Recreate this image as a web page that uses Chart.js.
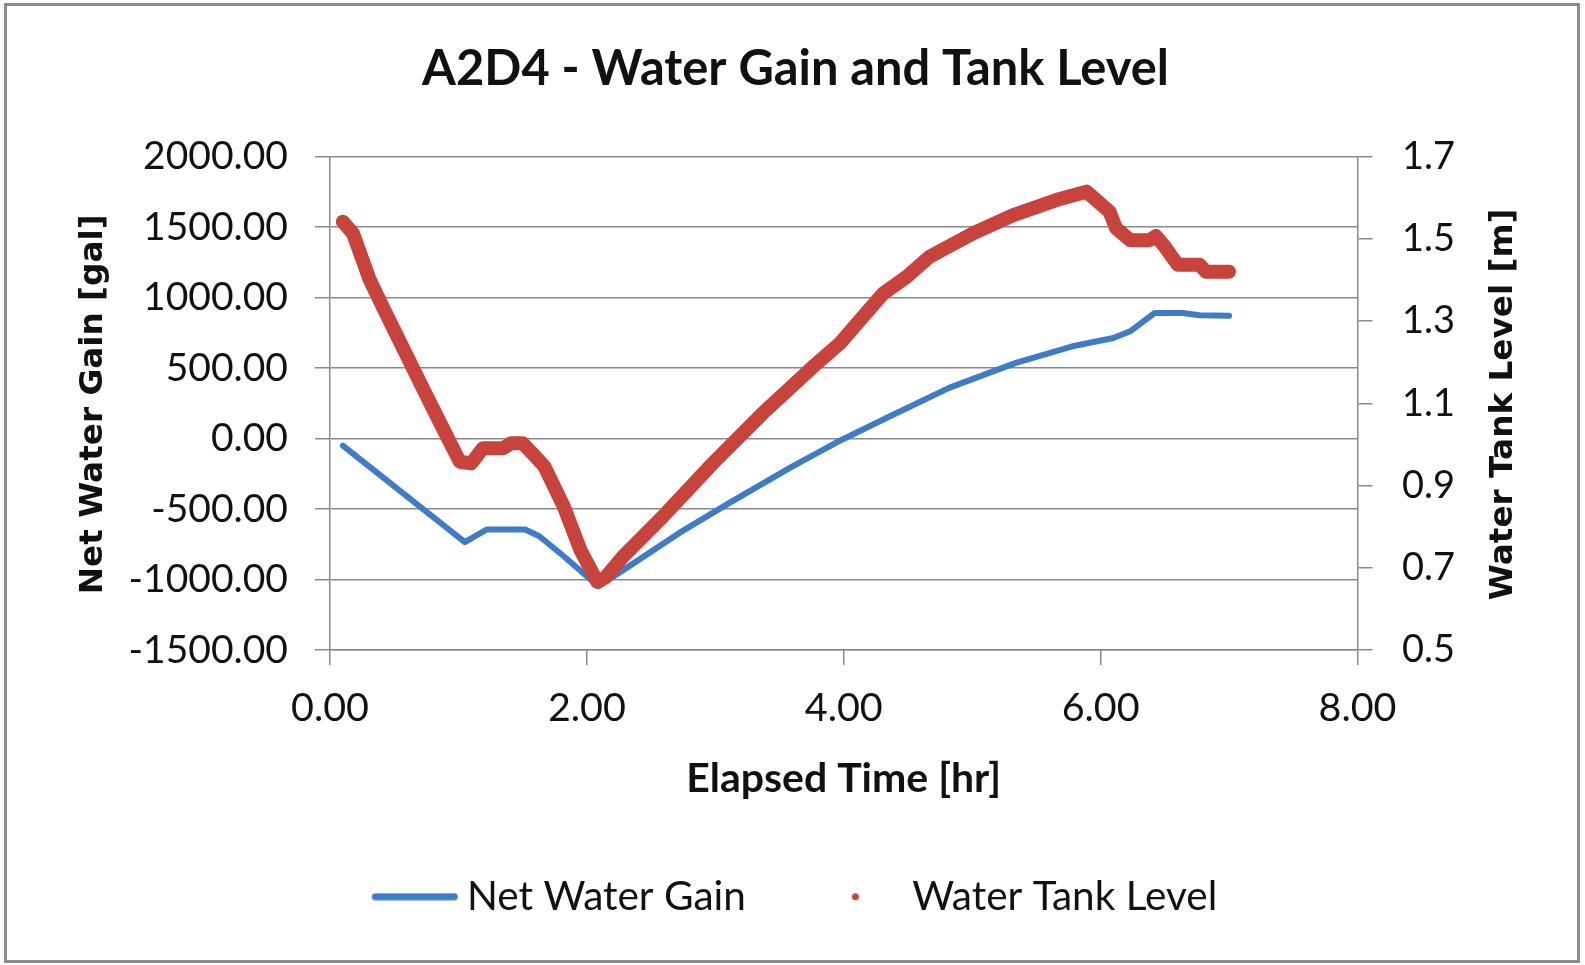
<!DOCTYPE html>
<html><head><meta charset="utf-8">
<script src="https://cdn.jsdelivr.net/npm/chart.js@4"></script>
<style>html,body{margin:0;padding:0;background:#fff;}canvas{display:block;}</style>
</head><body>
<canvas id="c" width="1585" height="965"></canvas>
<script>
// ---- data ----
const chartTitle = 'A2D4 - Water Gain and Tank Level';
const seriesNames = ['Net Water Gain', 'Water Tank Level'];
const xAxisTitle = 'Elapsed Time [hr]';
const yLeftTitle = 'Net Water Gain [gal]';
const yRightTitle = 'Water Tank Level [m]';
const xTicks = [0, 2, 4, 6, 8];
const yLeftTicks = [-1500, -1000, -500, 0, 500, 1000, 1500, 2000];
const yRightTicks = [0.5, 0.7, 0.9, 1.1, 1.3, 1.5, 1.7];
const gainTime = [0.10, 1.05, 1.22, 1.52, 1.63, 1.82, 2.09, 2.33, 2.72, 3.11, 3.58, 3.97, 4.36, 4.82, 5.34, 5.78, 6.10, 6.23, 6.42, 6.64, 6.77, 7.00];
const gainValues = [-50, -735, -645, -645, -693, -835, -1047, -905, -669, -456, -208, -15, 158, 360, 537, 655, 714, 761, 891, 891, 875, 872];
const levelTime = [0.10, 0.18, 0.31, 0.41, 0.73, 0.86, 1.01, 1.10, 1.19, 1.35, 1.41, 1.50, 1.60, 1.67, 1.82, 1.95, 2.08, 2.15, 2.28, 2.59, 2.98, 3.37, 3.76, 3.97, 4.15, 4.31, 4.49, 4.67, 5.01, 5.32, 5.66, 5.89, 6.07, 6.12, 6.23, 6.38, 6.43, 6.50, 6.60, 6.77, 6.82, 7.00];
const levelValues = [1.542, 1.513, 1.400, 1.335, 1.132, 1.051, 0.958, 0.954, 0.991, 0.991, 1.003, 1.003, 0.970, 0.946, 0.849, 0.743, 0.666, 0.678, 0.727, 0.824, 0.954, 1.076, 1.189, 1.246, 1.311, 1.368, 1.408, 1.457, 1.514, 1.558, 1.595, 1.615, 1.566, 1.526, 1.497, 1.497, 1.507, 1.481, 1.437, 1.437, 1.420, 1.420];

// ---- styling / layout ----
const BLUE = '#3F7CC8', RED = '#C8433B', GRID = '#8a8a8a', TXT = '#111111';
const W = 1585, H = 965;
const plotT = 156.7, plotB = 650, plotR = 1357.5, plotL = 330;
const padL = 6, padR = 0;
const tickLen = 15;

const mctx = document.createElement('canvas').getContext('2d');
function fit(text, weight, family, target) {
  mctx.font = weight + ' 100px ' + family;
  return 100 * target / mctx.measureText(text).width;
}
const titleSize = fit(chartTitle, 'bold', 'Lato', 747);
const yTickSize = fit('2000.00', 'normal', 'Lato', 145);
const xTickSize = fit('0.00', 'normal', 'Lato', 78);
const rTickSize = fit('1.7', 'normal', 'Lato', 53);
const legendSize = fit(seriesNames[0], 'normal', 'Lato', 279);
const xTitleSize = fit(xAxisTitle, 'bold', 'Lato', 315);
const axisTitleSize = fit(yLeftTitle, 'bold', '"DejaVu Sans"', 380);

const legendGap = 73;
const legendBox = 73;
const Hx = 896.7 - legendGap - legendSize / 2 - plotB;
const legendH = legendSize + legendGap + 10;
const padBottom = Math.max(0, H - plotB - Hx - legendH);
const titlePadTop = 69 - 0.6 * titleSize;
const titlePadBottom = plotT - titlePadTop - 1.2 * titleSize;

function makeImg(w, h, draw) {
  const cv = document.createElement('canvas');
  cv.width = w; cv.height = h;
  draw(cv.getContext('2d'));
  return cv;
}
const blueImg = makeImg(100, 8, c => { c.strokeStyle = BLUE; c.lineWidth = 7; c.lineCap = 'round'; c.beginPath(); c.moveTo(15, 4); c.lineTo(94, 4); c.stroke(); });
const redImg = makeImg(9, 9, c => { c.fillStyle = RED; c.beginPath(); c.arc(4.5, 4.5, 3.5, 0, Math.PI * 2); c.fill(); });

const framePlugin = {
  id: 'frame',
  beforeDraw(chart) {
    const c = chart.ctx; c.save(); c.fillStyle = '#fff'; c.fillRect(0, 0, chart.width, chart.height); c.restore();
  },
  afterDraw(chart) {
    const c = chart.ctx; c.save();
    c.strokeStyle = '#8c8c8c'; c.lineWidth = 3; c.strokeRect(5.5, 4.5, 1573, 957);
    c.font = 'bold ' + axisTitleSize + 'px "DejaVu Sans"';
    c.fillStyle = TXT; c.textAlign = 'center'; c.textBaseline = 'middle';
    const a = chart.chartArea;
    const cy = (a.top + a.bottom) / 2 + 1;
    const items = [[chart.scales.y.left + 88, chart.options.scales.y.title.text], [chart.scales.y1.left + 146, chart.options.scales.y1.title.text]];
    items.forEach(([x, t]) => { c.save(); c.translate(x, cy); c.rotate(-Math.PI / 2); c.fillText(t, 0, 0); c.restore(); });
    c.restore();
  }
};

const gainData = gainTime.map((t, i) => ({x: t, y: gainValues[i]}));
const levelData = levelTime.map((t, i) => ({x: t, y: levelValues[i]}));

new Chart(document.getElementById('c'), {
  type: 'scatter',
  data: {
    datasets: [
      {label: seriesNames[0], data: gainData, yAxisID: 'y', showLine: true, borderColor: BLUE, backgroundColor: BLUE,
       borderWidth: 6, pointRadius: 0, tension: 0, order: 2, borderJoinStyle: 'round', borderCapStyle: 'round'},
      {label: seriesNames[1], data: levelData, yAxisID: 'y1', showLine: true, borderColor: RED, backgroundColor: RED,
       borderWidth: 14, pointRadius: 0, tension: 0, order: 1, borderJoinStyle: 'round', borderCapStyle: 'round'}
    ]
  },
  options: {
    responsive: false, animation: false, devicePixelRatio: 1,
    layout: {padding: {left: padL, right: padR, top: 0, bottom: padBottom}},
    plugins: {
      title: {display: true, text: chartTitle, color: TXT,
              font: {family: 'Lato', weight: 'bold', size: titleSize, lineHeight: 1.2},
              padding: {top: titlePadTop, bottom: titlePadBottom}},
      legend: {display: true, position: 'bottom',
        labels: {usePointStyle: true, pointStyleWidth: legendBox, padding: legendGap, color: TXT,
          font: {family: 'Lato', size: legendSize},
          generateLabels: () => [
            {text: seriesNames[0], pointStyle: blueImg, datasetIndex: 0, fillStyle: BLUE, strokeStyle: BLUE, lineWidth: 0, hidden: false, fontColor: TXT},
            {text: seriesNames[1], pointStyle: redImg, datasetIndex: 1, fillStyle: RED, strokeStyle: RED, lineWidth: 0, hidden: false, fontColor: TXT}
          ]}},
      tooltip: {enabled: false}
    },
    scales: {
      x: {type: 'linear', position: 'bottom', min: 0, max: 8,
        afterBuildTicks: s => { s.ticks = xTicks.map(v => ({value: v})); },
        afterFit: s => { s.height = Hx; },
        ticks: {color: TXT, font: {family: 'Lato', size: xTickSize}, padding: 708 - (plotB + tickLen) - 0.6 * xTickSize,
                callback: v => Number(v).toFixed(2), maxRotation: 0, autoSkip: false},
        grid: {drawOnChartArea: false, drawTicks: true, tickLength: tickLen, color: GRID, lineWidth: 1.5},
        border: {display: true, color: GRID, width: 1.5},
        title: {display: true, text: xAxisTitle, color: TXT, font: {family: 'Lato', weight: 'bold', size: xTitleSize},
                padding: {top: 0, bottom: (plotB + Hx) - 779 - 0.6 * xTitleSize}}},
      y: {type: 'linear', position: 'left', min: -1500, max: 2000,
        afterBuildTicks: s => { s.ticks = yLeftTicks.map(v => ({value: v})); },
        afterFit: s => { s.width = plotL - padL; },
        ticks: {color: TXT, font: {family: 'Lato', size: yTickSize}, padding: plotL - tickLen - 288,
                callback: v => Number(v).toFixed(2)},
        grid: {drawOnChartArea: true, drawTicks: true, tickLength: tickLen, color: GRID, lineWidth: 1.5},
        border: {display: true, color: GRID, width: 1.5},
        title: {display: false, text: yLeftTitle}},
      y1: {type: 'linear', position: 'right', min: 0.5, max: 1.7,
        afterBuildTicks: s => { s.ticks = yRightTicks.map(v => ({value: v})); },
        afterFit: s => { s.width = W - padR - plotR; },
        ticks: {color: TXT, font: {family: 'Lato', size: rTickSize}, padding: 1402 - plotR - tickLen,
                callback: v => Number(v).toFixed(1)},
        grid: {drawOnChartArea: false, drawTicks: true, tickLength: tickLen, color: GRID, lineWidth: 1.5},
        border: {display: true, color: GRID, width: 1.5},
        title: {display: false, text: yRightTitle}}
    }
  },
  plugins: [framePlugin]
});
</script>
</body></html>
